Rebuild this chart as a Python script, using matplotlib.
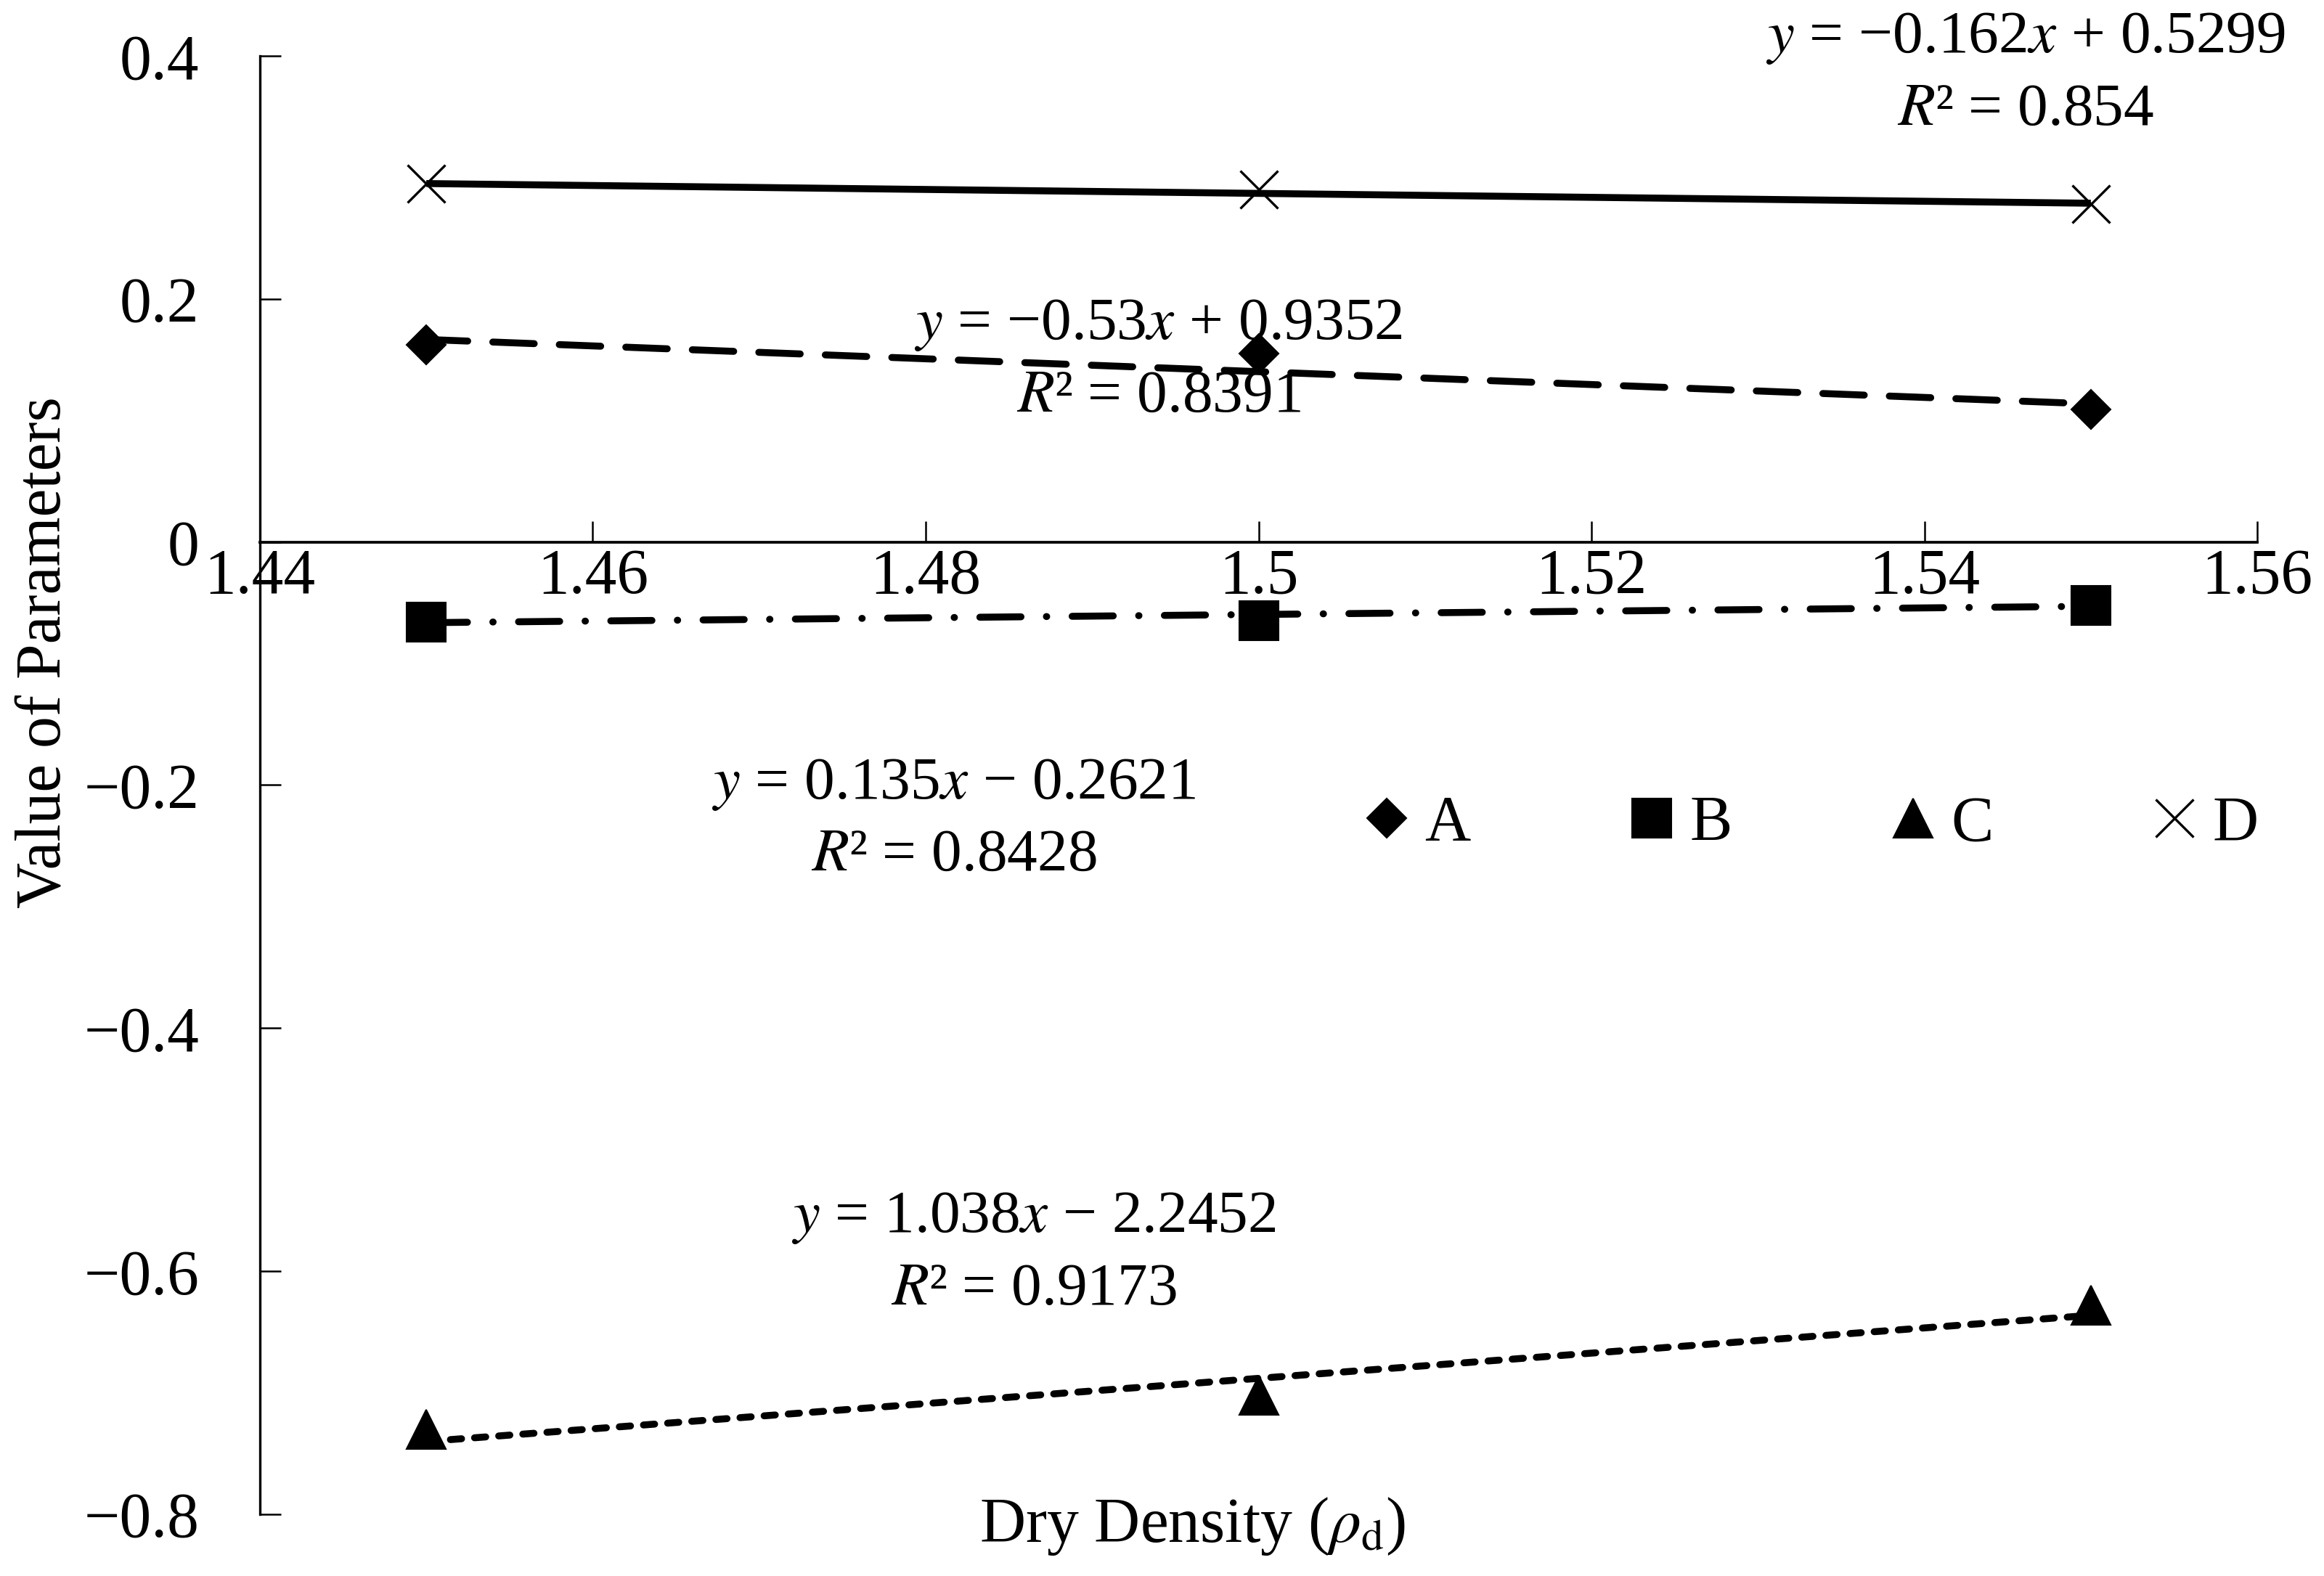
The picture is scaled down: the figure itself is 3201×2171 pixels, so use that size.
import numpy as np
import matplotlib
matplotlib.use('Agg')
import matplotlib.pyplot as plt

plt.rcParams['font.family'] = ['Liberation Serif', 'DejaVu Serif']
plt.rcParams['mathtext.fontset'] = 'stix'
plt.rcParams['lines.scale_dashes'] = False

# dry density values
density = [1.45, 1.5, 1.55]

# parameter values
a_vals = [0.162, 0.155, 0.109]
b_vals = [-0.066, -0.065, -0.052]
c_vals = [-0.730, -0.702, -0.628]
d_vals = [0.295, 0.290, 0.278]

# linear trend lines (slope, intercept)
a_fit = [-0.53, 0.9352]
b_fit = [0.135, -0.2621]
c_fit = [1.038, -2.2452]
d_fit = [-0.162, 0.5299]

labels = ['A', 'B', 'C', 'D']
equations = [r'$y$ = −0.53$x$ + 0.9352' + '\n' + r'$R$² = 0.8391',
             r'$y$ = 0.135$x$ − 0.2621' + '\n' + r'$R$² = 0.8428',
             r'$y$ = 1.038$x$ − 2.2452' + '\n' + r'$R$² = 0.9173',
             r'$y$ = −0.162$x$ + 0.5299' + '\n' + r'$R$² = 0.854']

xticks = [1.44, 1.46, 1.48, 1.5, 1.52, 1.54, 1.56]
xtick_labels = ['1.44', '1.46', '1.48', '1.5', '1.52', '1.54', '1.56']
yticks = [-0.8, -0.6, -0.4, -0.2, 0, 0.2, 0.4]
ytick_labels = ['−0.8', '−0.6', '−0.4', '−0.2', '0', '0.2', '0.4']

fig = plt.figure(figsize=(3201 / 300, 2171 / 300), dpi=300)
ax = fig.add_axes([0.1118, 0.0392, 0.9713 - 0.1118, 0.9645 - 0.0392])

fs = 21
lw = 2.3
series = [(a_vals, a_fit, 'D', 9.3, (0, (13.7, 8.3))),
          (b_vals, b_fit, 's', 13, (0, (13.6, 8.4, 0.1, 8.4))),
          (c_vals, c_fit, '^', 13, (0, (3.7, 4.3))),
          (d_vals, d_fit, 'x', 12.5, '-')]

xs = np.array([density[0], density[-1]])
for (vals, fit, mk, ms, ls), lab in zip(series, labels):
    ax.plot(xs, fit[0] * xs + fit[1], color='black', lw=lw, linestyle=ls,
            dash_capstyle='round', solid_capstyle='butt', zorder=2)
    ax.plot(density, vals, linestyle='none', marker=mk, markersize=ms,
            color='black', markeredgewidth=0.8 if mk == 'x' else 0.5,
            label=lab, zorder=3)

# equation labels
eq_pos = [(1.494, 0.149), (1.4817, -0.229), (1.4865, -0.586), (1.5461, 0.385)]
for txt, (x, y) in zip(equations, eq_pos):
    ax.text(x, y, txt, ha='center', va='center', fontsize=20,
            linespacing=1.4, multialignment='center')

ax.set_xlim(1.44, 1.56)
ax.set_ylim(-0.8, 0.4)
ax.spines['top'].set_visible(False)
ax.spines['right'].set_visible(False)
ax.spines['bottom'].set_position(('data', 0))
ax.spines['bottom'].set_linewidth(0.9)
ax.spines['left'].set_linewidth(0.8)

ax.set_xticks(xticks)
ax.set_xticklabels(xtick_labels)
ax.set_yticks(yticks)
ax.set_yticklabels(ytick_labels)
ax.tick_params(axis='x', direction='in', length=7, width=0.6, pad=2, labelsize=fs)
ax.tick_params(axis='y', direction='in', length=7, width=0.6, pad=20, labelsize=fs)

ax.set_ylabel('Value of Parameters', fontsize=fs, va='center')
ax.yaxis.set_label_coords(-0.108, 0.591)
ax.set_xlabel(r'Dry Density ($\rho_{\mathrm{d}}$)', fontsize=fs, va='center')
ax.xaxis.set_label_coords(0.467, -0.0085)

ax.legend(loc='center', bbox_to_anchor=(0.776, 0.473), ncol=4, frameon=False,
          fontsize=fs, handlelength=0.8, handletextpad=0.2, columnspacing=2.45)

fig.savefig('out.png', dpi=300)
